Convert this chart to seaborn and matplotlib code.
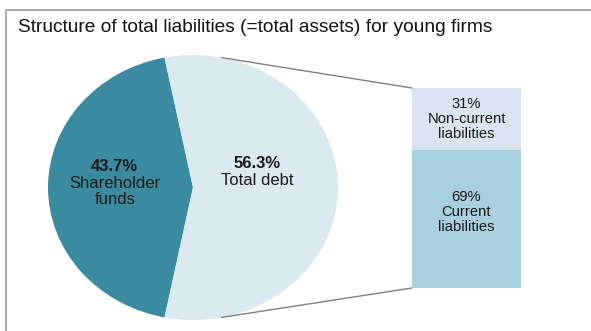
import numpy as np
import pandas as pd
import matplotlib
matplotlib.use("Agg")
import matplotlib.pyplot as plt
from matplotlib.patches import ConnectionPatch
from matplotlib.lines import Line2D
import seaborn as sns

# Total liabilities split
pie_names = ["Shareholder\nfunds", "Total debt"]
pie_values = [43.7, 56.3]
pie_colors = ["#3a8aa0", "#dbe9f0"]

# Breakdown of total debt
debt_names = ["Current\nliabilities", "Non-current\nliabilities"]
debt_values = [69, 31]
debt_colors = ["#a9d0de", "#dbe5f1"]

title = "Structure of total liabilities (=total assets) for young firms"

sns.set_theme(style="white")
plt.rcParams["font.family"] = ["Liberation Sans", "DejaVu Sans"]

W, H = 591, 331
fig = plt.figure(figsize=(W / 100, H / 100), dpi=100)
fig.patch.set_facecolor("white")


def px_axes(x0, y0, x1, y1):
    return fig.add_axes([x0 / W, 1 - y1 / H, (x1 - x0) / W, (y1 - y0) / H])


# overlay for frame and title
ax_bg = fig.add_axes([0, 0, 1, 1])
ax_bg.set_xlim(0, W)
ax_bg.set_ylim(H, 0)
ax_bg.axis("off")
frame_kw = dict(color="#a6a6a6", lw=1.4, solid_capstyle="butt")
ax_bg.add_line(Line2D([6, 6], [10, H + 2], **frame_kw))
ax_bg.add_line(Line2D([6, W + 2], [10, 10], **frame_kw))
ax_bg.text(18, 28, title, fontsize=13.8, color="#111111", va="center", ha="left")

# pie (elliptical because of the axes shape)
ax_pie = px_axes(48, 55, 338, 320)
half = pie_values[0] / 100 * 360 / 2
start = 180 - half
wedges, _ = ax_pie.pie(pie_values, colors=pie_colors, startangle=start,
                       counterclock=True, wedgeprops=dict(linewidth=0))
ax_pie.set_aspect("auto")
ax_pie.set_xlim(-1, 1)
ax_pie.set_ylim(-1, 1)
ax_pie.axis("off")

txt = "#1a1a1a"
pie_label_pos = [(-0.54, 0.16), (0.44, 0.18)]
for (x, y), name, val in zip(pie_label_pos, pie_names, pie_values):
    ax_pie.text(x, y, f"{val:.1f}%", ha="center", va="center", fontsize=12,
                fontweight="bold", color=txt)
    ax_pie.text(x, y - 0.07, name, ha="center", va="top", fontsize=12,
                color=txt, linespacing=1.1)

# stacked bar for debt breakdown
ax_bar = px_axes(412, 88, 521, 288)
df_total = pd.DataFrame({"part": ["Debt"], "share": [sum(debt_values)]})
df_cur = pd.DataFrame({"part": ["Debt"], "share": [debt_values[0]]})
sns.barplot(data=df_total, x="part", y="share", color=debt_colors[1],
            saturation=1, width=1, linewidth=0, ax=ax_bar)
sns.barplot(data=df_cur, x="part", y="share", color=debt_colors[0],
            saturation=1, width=1, linewidth=0, ax=ax_bar)
ax_bar.set_xlim(-0.5, 0.5)
ax_bar.set_ylim(0, sum(debt_values))
ax_bar.axis("off")

bottoms = np.cumsum([0] + debt_values[:-1])
label_y = [bottoms[0] + 38, bottoms[1] + debt_values[1] / 2]
for yv, name, val in zip(label_y, debt_names, debt_values):
    ax_bar.text(0, yv, f"{val}%\n{name}", ha="center", va="center",
                fontsize=10.6, color=txt, linespacing=1.05)

# connectors from the rim of the pie to the bar corners
phi = np.deg2rad(half)
for sgn, ybar in [(1, sum(debt_values)), (-1, 0)]:
    xy_pie = (np.cos(phi), sgn * np.sin(phi))
    con = ConnectionPatch(xyA=xy_pie, coordsA=ax_pie.transData,
                          xyB=(-0.5, ybar), coordsB=ax_bar.transData,
                          color="#808080", lw=1.0)
    fig.add_artist(con)

fig.savefig("out.png", dpi=100)
